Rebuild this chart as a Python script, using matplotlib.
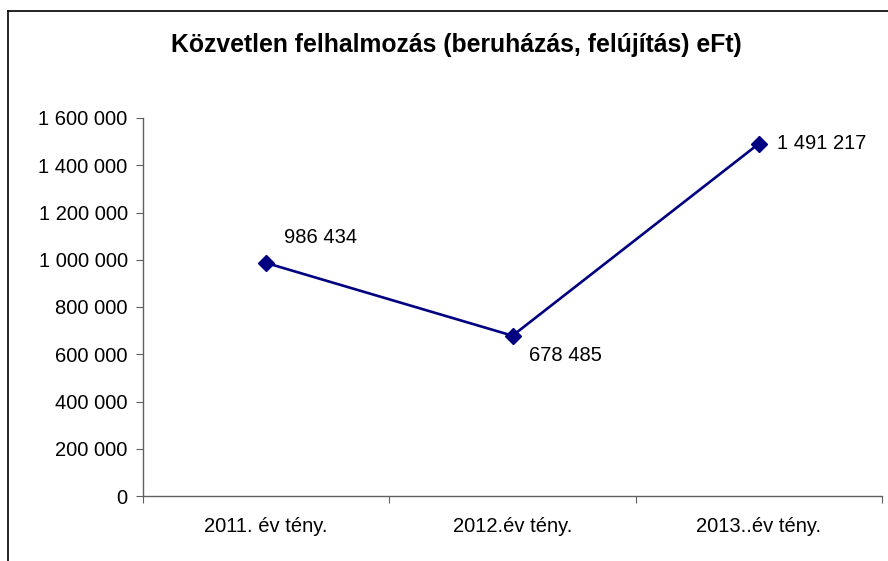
import matplotlib
matplotlib.use("Agg")
import matplotlib.pyplot as plt
from matplotlib.lines import Line2D
from matplotlib.ticker import FuncFormatter

plt.rcParams['font.family'] = ['Liberation Sans', 'DejaVu Sans']

categories = ['2011. év tény.', '2012.év tény.', '2013..év tény.']
values = [986434, 678485, 1491217]
title = 'Közvetlen felhalmozás (beruházás, felújítás) eFt)'


def fmt(v, pos=None):
    return '{:,}'.format(int(v)).replace(',', ' ')


fig = plt.figure(figsize=(8.88, 5.61), dpi=100)
ax = fig.add_axes([143 / 888, 1 - 496 / 561, (882 - 143) / 888, (496 - 118) / 561])

x = list(range(len(categories)))
ax.plot(x, values, color='#000080', lw=1.9, marker='D', ms=8.5, zorder=3)

# data labels
offsets = [(13, 18), (12, -14), (13, 0)]
for xi, v, off in zip(x, values, offsets):
    ax.annotate(fmt(v), (xi, v), xytext=off, textcoords='offset points',
                ha='left', va='center', fontsize=14.5)

ax.set_xlim(-0.5, 2.5)
ax.set_ylim(0, 1600000)
ax.set_yticks(range(0, 1600001, 200000))
ax.yaxis.set_major_formatter(FuncFormatter(fmt))
ax.set_xticks([-0.5, 0.5, 1.5, 2.5])
ax.set_xticklabels([])
ax.set_xticks(x, minor=True)
ax.set_xticklabels(categories, minor=True)
ax.tick_params(axis='x', which='minor', length=0, pad=15, labelsize=14.5)
ax.tick_params(axis='x', which='major', length=5, color='#606060')
ax.tick_params(axis='y', length=5, color='#606060', labelsize=14.5, pad=6)

for s in ['top', 'right']:
    ax.spines[s].set_visible(False)
for s in ['left', 'bottom']:
    ax.spines[s].set_color('#606060')
    ax.spines[s].set_linewidth(1.0)

fig.text(456 / 888, 1 - 45 / 561, title, ha='center', va='center',
         fontsize=17.8, fontweight='bold')

# chart area frame (right and bottom edges fall outside the image)
fig.add_artist(Line2D([8 / 888, 8 / 888], [0, 1 - 11 / 561], color='black', lw=1.2,
                      transform=fig.transFigure))
fig.add_artist(Line2D([8 / 888, 1], [1 - 11 / 561, 1 - 11 / 561], color='black', lw=1.2,
                      transform=fig.transFigure))

fig.savefig('out.png', dpi=100)
